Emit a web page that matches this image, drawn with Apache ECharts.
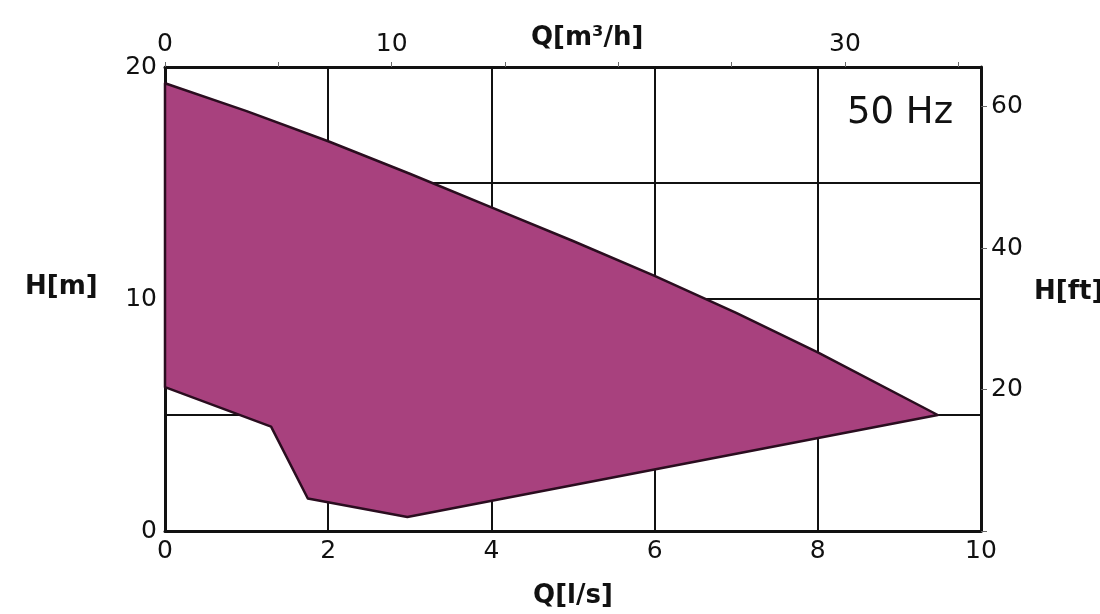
<!DOCTYPE html>
<html>
<head>
<meta charset="utf-8">
<script src="https://cdn.jsdelivr.net/npm/echarts@6/dist/echarts.min.js"></script>
<style>
  html, body { margin: 0; padding: 0; background: #fff; }
  #main { width: 1100px; height: 614px; }
</style>
</head>
<body>
<div id="main"></div>
<script>
// upper limit curve, Q [l/s] -> H [m]
var upperQ = [0, 1, 2, 3, 4, 5, 6, 7, 8, 9.47];
var upperH = [19.3, 18.1, 16.8, 15.4, 13.95, 12.5, 11.0, 9.4, 7.7, 5.0];
// lower limit curve, Q [l/s] -> H [m]
var lowerQ = [0, 1.3, 1.75, 2.97, 9.47];
var lowerH = [6.2, 4.5, 1.4, 0.6, 5.0];

var flowTicks = ['0', '10', '30'];      // top axis labels shown, m3/h
var M_TO_FT = 3.28084;
var LS_TO_M3H = 3.6;

var font = 'DejaVu Sans';
var ink = '#111';

// outline of the operating range: upper curve then lower curve backwards
var outline = [];
for (var i = 0; i < upperQ.length; i++) outline.push([upperQ[i], upperH[i]]);
for (var j = lowerQ.length - 1; j >= 0; j--) outline.push([lowerQ[j], lowerH[j]]);

var myChart = echarts.init(document.getElementById('main'));

var option = {
    backgroundColor: '#fff',
    animation: false,
    grid: { left: 165, right: 119, top: 67, bottom: 76 },
    xAxis: [{
        type: 'value', position: 'bottom',
        min: 0, max: 10, interval: 2,
        name: 'Q[l/s]', nameLocation: 'middle', nameGap: 52,
        nameTextStyle: { fontFamily: font, fontSize: 26, fontWeight: 'bold', color: ink },
        axisLine: { show: true, onZero: false, lineStyle: { color: ink, width: 3 } },
        axisTick: { show: false },
        axisLabel: { fontFamily: font, fontSize: 25, color: ink, margin: 8 },
        splitLine: { show: true, lineStyle: { color: ink, width: 2 } }
    }, {
        type: 'value', position: 'top',
        min: 0, max: 10 * LS_TO_M3H, interval: 5,
        axisLine: { show: true, onZero: false, lineStyle: { color: ink, width: 3 } },
        axisTick: { show: true, inside: false, length: 5, lineStyle: { color: '#666', width: 1 } },
        axisLabel: {
            fontFamily: font, fontSize: 25, color: ink, margin: 10, showMaxLabel: false,
            formatter: function (v) { return flowTicks.indexOf(String(v)) >= 0 ? String(v) : ''; }
        },
        splitLine: { show: false }
    }],
    yAxis: [{
        type: 'value', position: 'left',
        min: 0, max: 20, interval: 5,
        axisLine: { show: true, onZero: false, lineStyle: { color: ink, width: 3 } },
        axisTick: { show: false },
        axisLabel: {
            fontFamily: font, fontSize: 25, color: ink, margin: 8,
            formatter: function (v) { return v % 10 === 0 ? String(v) : ''; }
        },
        splitLine: { show: true, lineStyle: { color: ink, width: 2 } }
    }, {
        type: 'value', position: 'right',
        min: 0, max: 20 * M_TO_FT, interval: 20,
        axisLine: { show: true, onZero: false, lineStyle: { color: ink, width: 3 } },
        axisTick: { show: true, inside: false, length: 6, lineStyle: { color: '#666', width: 1 } },
        axisLabel: {
            fontFamily: font, fontSize: 25, color: ink, margin: 10, showMaxLabel: false,
            formatter: function (v) { return v > 0 ? String(v) : ''; }
        },
        splitLine: { show: false }
    }],
    graphic: [
        { type: 'text', left: 25, top: 274, style: { text: 'H[m]', fontFamily: font, fontSize: 26, fontWeight: 'bold', fill: ink } },
        { type: 'text', left: 1034, top: 279, style: { text: 'H[ft]', fontFamily: font, fontSize: 26, fontWeight: 'bold', fill: ink } },
        { type: 'text', left: 531, top: 25, style: { text: 'Q[m\u00b3/h]', fontFamily: font, fontSize: 26, fontWeight: 'bold', fill: ink } },
        { type: 'text', left: 847, top: 95, style: { text: '50 Hz', fontFamily: font, fontSize: 37, fill: ink } }
    ],
    series: [{
        type: 'custom',
        xAxisIndex: 0, yAxisIndex: 0,
        data: outline,
        renderItem: function (params, api) {
            if (params.dataIndex !== 0) return null;
            var pts = outline.map(function (p) { return api.coord(p); });
            return {
                type: 'polygon',
                shape: { points: pts },
                style: { fill: '#a8417e', stroke: '#2a0d1f', lineWidth: 2.5, lineJoin: 'round' }
            };
        }
    }]
};

myChart.setOption(option);
</script>
</body>
</html>
